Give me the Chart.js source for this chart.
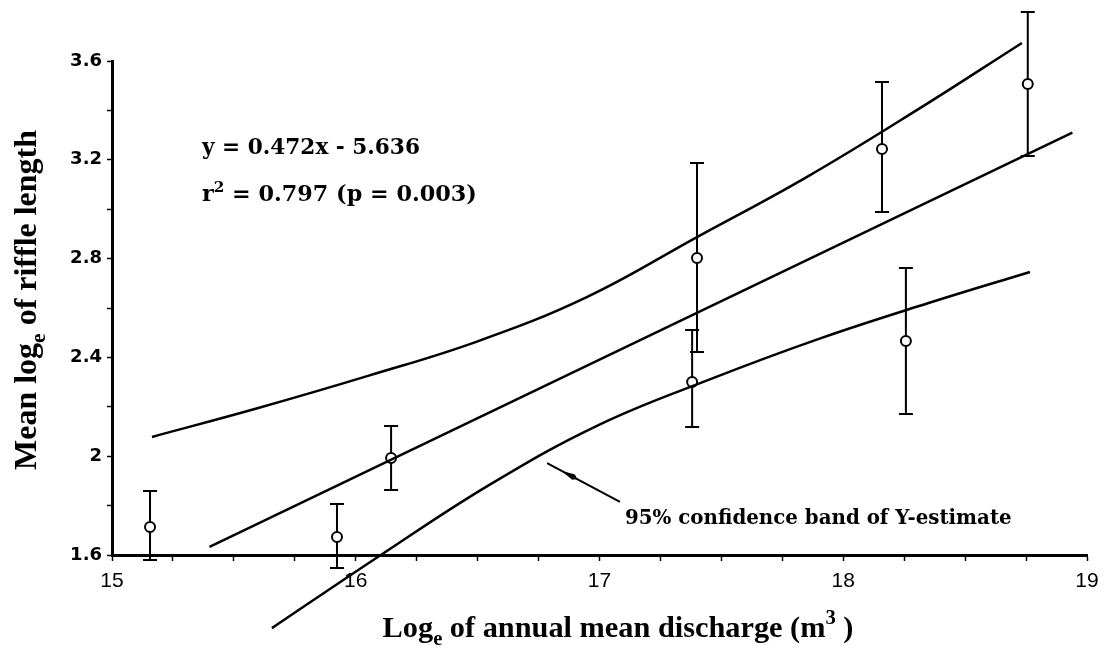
<!DOCTYPE html>
<html>
<head>
<meta charset="utf-8">
<script src="https://cdn.jsdelivr.net/npm/chart.js@4.4.1/dist/chart.umd.min.js"></script>
<style>
  html, body { margin: 0; padding: 0; background: #fff; }
  canvas { display: block; }
</style>
</head>
<body>
<canvas id="c" width="1108" height="650"></canvas>
<script>
// ---- data ----
const meanX = [15.156, 15.923, 16.145, 17.40, 17.38, 18.159, 18.257, 18.757];
const meanY = [1.713, 1.673, 1.993, 2.802, 2.300, 3.244, 2.466, 3.507];
const errHigh = [1.859, 1.806, 2.122, 3.187, 2.511, 3.515, 2.762, 3.798];
const errLow = [1.580, 1.547, 1.863, 2.422, 2.118, 2.989, 2.171, 3.215];

const regX = [15.40, 18.94];
const regY = [1.633, 3.310];

const upperX = [15.164, 15.60, 16.05, 16.50, 16.95, 17.40, 17.85, 18.30, 18.733];
const upperY = [2.078, 2.195, 2.325, 2.465, 2.645, 2.887, 3.130, 3.400, 3.673];

const lowerX = [15.656, 16.10, 16.55, 17.00, 17.45, 17.90, 18.35, 18.766];
const lowerY = [1.304, 1.598, 1.885, 2.128, 2.310, 2.475, 2.620, 2.746];

const xTickLabels = ['15', '16', '17', '18', '19'];
const yTickLabels = ['1.6', '2', '2.4', '2.8', '3.2', '3.6'];

const equationText = 'y = 0.472x - 5.636';
const r2Text = ' = 0.797 (p = 0.003)';
const annotationText = '95% confidence band of Y-estimate';
const xTitleParts = ['Log', 'e', ' of annual mean discharge (m', '3', ' )'];
const yTitleParts = ['Mean log', 'e', ' of riffle length'];

// ---- helpers ----
const toPts = (xs, ys) => xs.map((x, i) => ({ x: x, y: ys[i] }));

function richWidth(ctx, parts, family, weight, size) {
  let w = 0;
  parts.forEach(p => {
    const s = p.sub || p.sup ? size * 0.68 : size;
    ctx.font = weight + ' ' + s + 'px ' + family;
    w += ctx.measureText(p.t).width;
  });
  return w;
}
function drawRich(ctx, parts, x, y, o) {
  let size = o.size;
  if (o.width) {
    const w0 = richWidth(ctx, parts, o.family, o.weight, size);
    size = size * o.width / w0;
  }
  const total = richWidth(ctx, parts, o.family, o.weight, size);
  let cx = o.align === 'center' ? x - total / 2 : x;
  ctx.fillStyle = '#000';
  ctx.textBaseline = 'alphabetic';
  ctx.textAlign = 'left';
  parts.forEach(p => {
    const small = p.sub || p.sup;
    const s = small ? size * 0.68 : size;
    ctx.font = o.weight + ' ' + s + 'px ' + o.family;
    let dy = 0;
    if (p.sub) dy = size * 0.28;
    if (p.sup) dy = -size * 0.42;
    ctx.fillText(p.t, cx, y + dy);
    cx += ctx.measureText(p.t).width;
  });
}

const whiteBg = {
  id: 'whiteBg',
  beforeDraw(chart) {
    const ctx = chart.ctx;
    ctx.save();
    ctx.fillStyle = '#fff';
    ctx.fillRect(0, 0, chart.width, chart.height);
    ctx.restore();
  }
};

const errorBars = {
  id: 'errorBars',
  beforeDatasetsDraw(chart) {
    const ctx = chart.ctx;
    const xs = chart.scales.x, ys = chart.scales.y;
    ctx.save();
    ctx.strokeStyle = '#000';
    ctx.lineWidth = 2;
    meanX.forEach((mx, i) => {
      const px = xs.getPixelForValue(mx);
      const top = ys.getPixelForValue(errHigh[i]);
      const bot = ys.getPixelForValue(errLow[i]);
      ctx.beginPath();
      ctx.moveTo(px, top); ctx.lineTo(px, bot);
      ctx.moveTo(px - 7, top); ctx.lineTo(px + 7, top);
      ctx.moveTo(px - 7, bot); ctx.lineTo(px + 7, bot);
      ctx.stroke();
    });
    ctx.restore();
  }
};

const texts = {
  id: 'texts',
  afterDraw(chart) {
    const ctx = chart.ctx;
    const xs = chart.scales.x, ys = chart.scales.y;
    ctx.save();
    const serifB = '"DejaVu Serif"';
    drawRich(ctx, [{ t: equationText }], 202, 154,
      { family: serifB, weight: 'bold', size: 20, width: 218 });
    drawRich(ctx, [{ t: 'r' }, { t: '2', sup: true }, { t: r2Text }], 202, 201,
      { family: serifB, weight: 'bold', size: 20, width: 275 });
    drawRich(ctx, [{ t: annotationText }], 625, 524,
      { family: serifB, weight: 'bold', size: 17, width: 387 });

    // arrow pointing to the lower confidence curve
    const tipX = xs.getPixelForValue(16.785), tipY = ys.getPixelForValue(1.972);
    const endX = xs.getPixelForValue(17.084), endY = ys.getPixelForValue(1.815);
    ctx.strokeStyle = '#000';
    ctx.lineWidth = 2;
    ctx.beginPath();
    ctx.moveTo(tipX, tipY); ctx.lineTo(endX, endY);
    ctx.stroke();
    const ang = Math.atan2(endY - tipY, endX - tipX);
    const hx = tipX + Math.cos(ang) * 30, hy = tipY + Math.sin(ang) * 30;
    ctx.beginPath();
    ctx.moveTo(tipX + Math.cos(ang) * 16, tipY + Math.sin(ang) * 16);
    ctx.lineTo(hx + Math.cos(ang + Math.PI / 2) * 3, hy + Math.sin(ang + Math.PI / 2) * 3);
    ctx.lineTo(hx + Math.cos(ang) * 4, hy + Math.sin(ang) * 4);
    ctx.lineTo(hx + Math.cos(ang - Math.PI / 2) * 3, hy + Math.sin(ang - Math.PI / 2) * 3);
    ctx.closePath();
    ctx.fillStyle = '#000';
    ctx.fill();

    // axis titles
    const tf = '"Liberation Serif"';
    drawRich(ctx, [{ t: xTitleParts[0] }, { t: xTitleParts[1], sub: true }, { t: xTitleParts[2] },
      { t: xTitleParts[3], sup: true }, { t: xTitleParts[4] }], 618, 637,
      { family: tf, weight: 'bold', size: 24, width: 471, align: 'center' });
    ctx.save();
    ctx.translate(36, 300);
    ctx.rotate(-Math.PI / 2);
    drawRich(ctx, [{ t: yTitleParts[0] }, { t: yTitleParts[1], sub: true }, { t: yTitleParts[2] }], 0, 0,
      { family: tf, weight: 'bold', size: 24, width: 340, align: 'center' });
    ctx.restore();
    ctx.restore();
  }
};

const lineStyle = { borderColor: '#000', borderWidth: 2.5, pointRadius: 0, fill: false };

new Chart(document.getElementById('c'), {
  type: 'line',
  data: {
    datasets: [
      Object.assign({ data: toPts(regX, regY), tension: 0 }, lineStyle),
      Object.assign({ data: toPts(upperX, upperY), tension: 0.4, clip: false }, lineStyle),
      Object.assign({ data: toPts(lowerX, lowerY), tension: 0.4, clip: false }, lineStyle),
      {
        data: toPts(meanX, meanY), showLine: false, clip: false,
        pointRadius: 5, pointHoverRadius: 5, pointBackgroundColor: '#fff',
        pointBorderColor: '#000', pointBorderWidth: 2
      }
    ]
  },
  options: {
    responsive: false,
    devicePixelRatio: 1,
    animation: false,
    layout: { padding: { top: 61, right: 21, left: 0, bottom: 0 } },
    plugins: { legend: { display: false }, tooltip: { enabled: false }, title: { display: false } },
    scales: {
      x: {
        type: 'linear', min: 15, max: 19,
        afterFit(scale) { scale.height = 95; },
        ticks: {
          stepSize: 0.25, autoSkip: false, maxRotation: 0, padding: 8,
          color: '#000', font: { family: '"Liberation Sans"', size: 21 },
          callback(v) {
            const k = Math.round((v - 15) * 4);
            return k % 4 === 0 ? xTickLabels[k / 4] : '';
          }
        },
        grid: { drawOnChartArea: false, drawTicks: true, tickLength: 6, tickColor: '#000', tickWidth: 1.5 },
        border: { display: true, color: '#000', width: 3 }
      },
      y: {
        type: 'linear', min: 1.6, max: 3.6,
        afterFit(scale) { scale.width = 112; },
        ticks: {
          stepSize: 0.2, autoSkip: false, padding: 5,
          color: '#000', font: { family: '"DejaVu Sans"', size: 18, weight: 'bold' },
          callback(v) {
            const k = Math.round((v - 1.6) * 5);
            return k % 2 === 0 ? yTickLabels[k / 2] : '';
          }
        },
        grid: { drawOnChartArea: false, drawTicks: true, tickLength: 5, tickColor: '#000', tickWidth: 1.5 },
        border: { display: true, color: '#000', width: 3 }
      }
    }
  },
  plugins: [whiteBg, errorBars, texts]
});
</script>
</body>
</html>
